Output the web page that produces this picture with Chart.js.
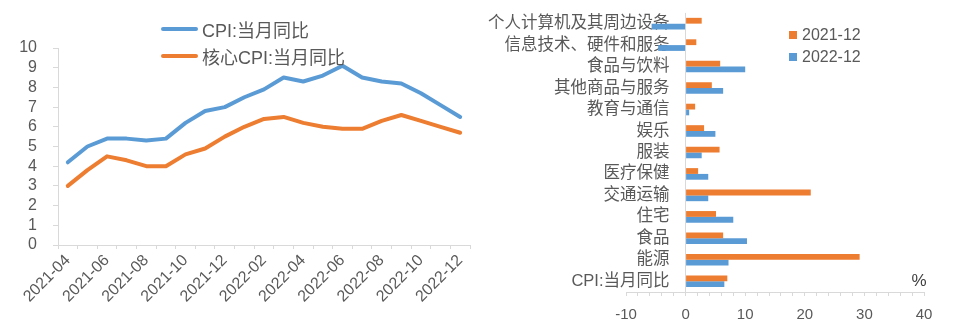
<!DOCTYPE html>
<html>
<head>
<meta charset="utf-8">
<title>美国CPI</title>
<script src="https://cdn.jsdelivr.net/npm/chart.js@4.4.0/dist/chart.umd.min.js"></script>
<style>
  body { margin: 0; background: #fff; font-family: 'Liberation Sans', 'Noto Sans CJK SC', sans-serif; color: #595959; }
  .panel { position: absolute; top: 0; height: 325px; }
  .legend-row { position: absolute; display: flex; align-items: center; white-space: nowrap; height: 24px; }
</style>
</head>
<body>
<div class="panel" style="left:0;width:480px">
  <canvas id="trendChart" width="480" height="325"></canvas>
  <div id="trendLegend"></div>
</div>
<div class="panel" style="left:480px;width:479px">
  <canvas id="itemChart" width="479" height="325"></canvas>
  <div id="itemLegend"></div>
</div>
<script>
// monthly CPI, year over year (%)
const months = ['2021-04', '2021-05', '2021-06', '2021-07', '2021-08', '2021-09', '2021-10',
  '2021-11', '2021-12', '2022-01', '2022-02', '2022-03', '2022-04', '2022-05', '2022-06',
  '2022-07', '2022-08', '2022-09', '2022-10', '2022-11', '2022-12'];
const cpiYoY = [4.2, 5.0, 5.4, 5.4, 5.3, 5.4, 6.2, 6.8, 7.0, 7.5, 7.9, 8.5, 8.3, 8.6, 9.1, 8.5, 8.3, 8.2, 7.7, 7.1, 6.5];
const coreYoY = [3.0, 3.8, 4.5, 4.3, 4.0, 4.0, 4.6, 4.9, 5.5, 6.0, 6.4, 6.5, 6.2, 6.0, 5.9, 5.9, 6.3, 6.6, 6.3, 6.0, 5.7];

// CPI components, Dec 2021 vs Dec 2022 (%)
const items = ['个人计算机及其周边设备', '信息技术、硬件和服务', '食品与饮料', '其他商品与服务', '教育与通信',
  '娱乐', '服装', '医疗保健', '交通运输', '住宅', '食品', '能源', 'CPI:当月同比'];
const dec2021 = [2.7, 1.8, 5.8, 4.4, 1.6, 3.1, 5.7, 2.1, 21.0, 5.1, 6.3, 29.2, 7.0];
const dec2022 = [-5.7, -4.6, 10.0, 6.3, 0.6, 5.0, 2.7, 3.8, 3.8, 8.0, 10.3, 7.2, 6.5];

const BLUE = '#5b9bd5';
const ORANGE = '#ed7d31';
const TEXT = '#595959';
const AXIS = '#d9d9d9';

Chart.defaults.font.family = "'Liberation Sans', 'Noto Sans CJK SC', sans-serif";
Chart.defaults.color = TEXT;

// left: line chart
const trendChart = new Chart(document.getElementById('trendChart'), {
  type: 'line',
  data: {
    labels: months,
    datasets: [
      { label: 'CPI:当月同比', data: cpiYoY, borderColor: BLUE, backgroundColor: BLUE },
      { label: '核心CPI:当月同比', data: coreYoY, borderColor: ORANGE, backgroundColor: ORANGE }
    ]
  },
  options: {
    responsive: false,
    animation: false,
    layout: { padding: { top: 48, right: 10, left: 0, bottom: 0 } },
    plugins: { legend: { display: false }, tooltip: { enabled: false } },
    elements: {
      point: { radius: 0 },
      line: { borderWidth: 4, tension: 0, borderCapStyle: 'round', borderJoinStyle: 'round' }
    },
    scales: {
      x: {
        offset: true,
        grid: { offset: true, drawOnChartArea: false, tickLength: 4, color: AXIS },
        border: { color: AXIS },
        ticks: {
          autoSkip: false, maxRotation: 45, minRotation: 45, padding: 2,
          color: TEXT, font: { size: 16 },
          callback(v, i) { return i % 2 === 0 ? this.getLabelForValue(v) : ''; }
        },
        afterFit(s) { s.height = 80; }
      },
      y: {
        min: 0, max: 10,
        grid: { drawOnChartArea: false, tickLength: 5, color: AXIS },
        border: { color: AXIS },
        ticks: { stepSize: 1, autoSkip: false, padding: 16, color: TEXT, font: { size: 16 } },
        afterFit(s) { s.width = 58; }
      }
    }
  }
});

// "%" unit mark in the lower right of the bar chart
const unitMark = {
  id: 'unitMark',
  afterDraw(chart) {
    const { ctx, chartArea } = chart;
    ctx.save();
    ctx.fillStyle = '#404040';
    ctx.font = "17px 'Liberation Sans', sans-serif";
    ctx.textAlign = 'center';
    ctx.textBaseline = 'middle';
    ctx.fillText('%', chartArea.right - 5, chartArea.bottom - 11);
    ctx.restore();
  }
};

// right: horizontal bars
const itemChart = new Chart(document.getElementById('itemChart'), {
  type: 'bar',
  data: {
    labels: items,
    datasets: [
      { label: '2021-12', data: dec2021, backgroundColor: ORANGE },
      { label: '2022-12', data: dec2022, backgroundColor: BLUE }
    ]
  },
  plugins: [unitMark],
  options: {
    indexAxis: 'y',
    responsive: false,
    animation: false,
    layout: { padding: { top: 9, right: 35, left: 146, bottom: 0 } },
    plugins: { legend: { display: false }, tooltip: { enabled: false } },
    datasets: { bar: { categoryPercentage: 0.54, barPercentage: 1.0, borderWidth: 0 } },
    scales: {
      x: {
        min: -10, max: 40,
        grid: {
          color: ctx => (ctx.tick && ctx.tick.value === 0 ? AXIS : 'rgba(0,0,0,0)'),
          tickColor: AXIS, tickLength: 4
        },
        border: { color: AXIS },
        ticks: {
          stepSize: 2, autoSkip: false, maxRotation: 0, minRotation: 0,
          padding: 10, color: TEXT, font: { size: 15 },
          callback: v => (v % 10 === 0 ? v : '')
        },
        afterFit(s) { s.height = 33; }
      },
      y: {
        position: { x: -2.7 },
        grid: { display: false },
        border: { display: false },
        ticks: { autoSkip: false, color: TEXT, font: { size: 16.5 } }
      }
    }
  }
});

// html legends built from the datasets
function buildLegend(chart, el, rows) {
  chart.data.datasets.forEach((ds, i) => {
    const r = rows[i];
    const row = document.createElement('div');
    row.className = 'legend-row';
    row.style.left = r.left + 'px';
    row.style.top = (r.cy - 12) + 'px';
    const swatch = document.createElement('span');
    swatch.style.cssText = r.swatch + ';background:' + ds.backgroundColor + ';display:inline-block';
    const label = document.createElement('span');
    label.textContent = ds.label;
    label.style.cssText = 'font-size:' + r.size + 'px;margin-left:' + r.gap + 'px;color:' + TEXT;
    row.appendChild(swatch);
    row.appendChild(label);
    el.appendChild(row);
  });
}

const lineSwatch = 'width:37px;height:4px;border-radius:2px';
buildLegend(trendChart, document.getElementById('trendLegend'), [
  { left: 161, cy: 29, swatch: lineSwatch, size: 18, gap: 4 },
  { left: 161, cy: 56, swatch: lineSwatch, size: 18, gap: 4 }
]);

const boxSwatch = 'width:8px;height:8px';
buildLegend(itemChart, document.getElementById('itemLegend'), [
  { left: 309, cy: 35, swatch: boxSwatch, size: 16, gap: 5 },
  { left: 309, cy: 57, swatch: boxSwatch, size: 16, gap: 5 }
]);
</script>
</body>
</html>
